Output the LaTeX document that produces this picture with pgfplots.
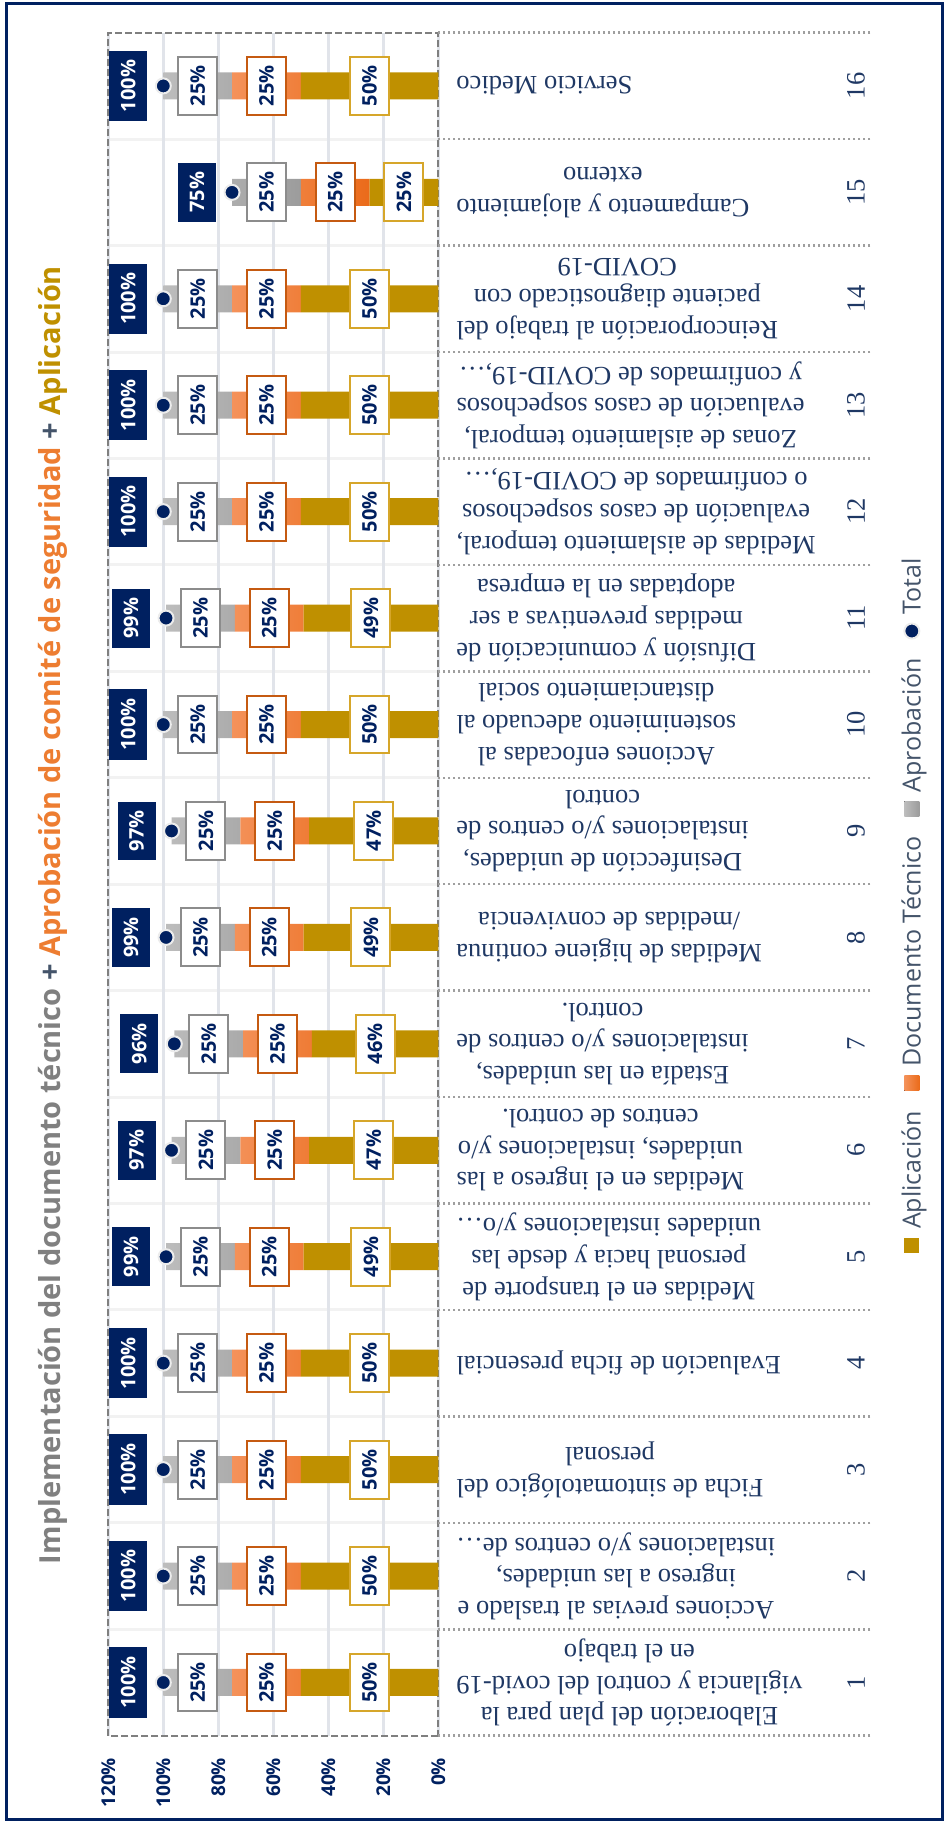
\documentclass[border=0pt]{standalone}
\usepackage{fontspec}
\setmainfont{Open Sans}
\newfontfamily\catfont{Liberation Serif}
\usepackage{pgfplots}
\pgfplotsset{compat=1.18}
\definecolor{navy}{HTML}{002060}
\definecolor{catblue}{HTML}{1F3864}
\definecolor{gold}{HTML}{BF9000}
\definecolor{goldB}{HTML}{D6A62A}
\definecolor{orL}{HTML}{F4925A}
\definecolor{orD}{HTML}{EB6B1A}
\definecolor{orB}{HTML}{C55A11}
\definecolor{grL}{HTML}{BDBDBD}
\definecolor{grD}{HTML}{9C9C9C}
\definecolor{grB}{HTML}{8C8C8C}
\definecolor{slate}{HTML}{44546A}
\definecolor{tgray}{HTML}{808080}
\definecolor{tor}{HTML}{ED7D31}
\definecolor{gridc}{HTML}{E1E4EA}
\definecolor{dashc}{HTML}{7F7F7F}
\pgfplotsset{
  sqlegend/.style={legend image code/.code={\fill[##1] (0pt,-7.5pt) rectangle (15pt,7.5pt);}},
}
\tikzset{
  seglab/.style={fill=white, line width=2pt, text=navy, font=\bfseries\fontsize{20}{24}\selectfont, inner xsep=8.5pt, inner ysep=0pt, minimum height=39pt, anchor=center},
}
\begin{document}
\begin{tikzpicture}[rotate=90, transform shape]
\path[use as bounding box] (0pt,0pt) rectangle (1823pt,945pt);
\draw[navy, line width=3pt] (3pt,2pt) rectangle (1819pt,938pt);
\node[anchor=center, font=\bfseries\fontsize{29}{35}\selectfont] at (908pt,892pt)
 {\textcolor{tgray}{Implementación del documento técnico} \textcolor{slate}{+} \textcolor{tor}{Aprobación de comité de seguridad} \textcolor{slate}{+} \textcolor{gold}{Aplicación}};
\begin{axis}[
  at={(87.3pt,506.7pt)}, anchor=south west,
  scale only axis, width=1703pt, height=330pt,
  ybar stacked, bar width=27pt,
  xmin=0.5, xmax=16.5, ymin=0, ymax=120,
  xtick={1,2,3,4,5,6,7,8,9,10,11,12,13,14,15,16},
  xticklabels={
    {Elaboración del plan para la\\vigilancia y control del covid-19\\en el trabajo},
    {Acciones previas al traslado e\\ingreso a las unidades,\\instalaciones y/o centros de…},
    {Ficha de sintomatológico del\\personal},
    {Evaluación de ficha presencial},
    {Medidas en el transporte de\\personal hacia y desde las\\unidades instalaciones y/o…},
    {Medidas en el ingreso a las\\unidades, instalaciones y/o\\centros de control.},
    {Estadía en las unidades,\\instalaciones y/o centros de\\control.},
    {Medidas de higiene continua\\/medidas de convivencia},
    {Desinfección de unidades,\\instalaciones y/o centros de\\control},
    {Acciones enfocadas al\\sostenimiento adecuado al\\distanciamiento social},
    {Difusión y comunicación de\\medidas preventivas a ser\\adoptadas en la empresa},
    {Medidas de aislamiento temporal,\\evaluación de casos sospechosos\\o confirmados de COVID-19,…},
    {Zonas de aislamiento temporal,\\evaluación de casos sospechosos\\y confirmados de COVID-19,…},
    {Reincorporación al trabajo del\\paciente diagnosticado con\\COVID-19},
    {Campamento y alojamiento\\externo},
    {Servicio Medico}},
  xticklabel style={rotate=90, anchor=east, align=center, inner sep=0pt, text=catblue,
     font=\catfont\fontsize{26.5}{31.7}\selectfont},
  xticklabel shift=18pt,
  ytick={0,20,40,60,80,100,120},
  yticklabels={0\%,20\%,40\%,60\%,80\%,100\%,120\%},
  yticklabel style={anchor=east, inner sep=0pt, text=navy, font=\bfseries\fontsize{19}{23}\selectfont},
  yticklabel shift=22pt,
  minor xtick={1.5,2.5,3.5,4.5,5.5,6.5,7.5,8.5,9.5,10.5,11.5,12.5,13.5,14.5,15.5},
  ymajorgrids, xminorgrids,
  major grid style={draw=gridc, line width=2.5pt},
  minor grid style={draw=black!5, line width=3pt},
  major tick length=0pt, minor tick length=0pt,
  axis line style={draw=dashc, line width=2.2pt, dash pattern=on 7pt off 3pt},
  xtick pos=left, ytick pos=left,
  extra x ticks={0.5,1.5,2.5,3.5,4.5,5.5,6.5,7.5,8.5,9.5,10.5,11.5,12.5,13.5,14.5,15.5,16.5},
  extra x tick labels={},
  extra x tick style={xtick pos=left, xtick align=outside, major tick length=432pt,
     major tick style={draw=gray!75, line width=2.5pt, dash pattern=on 2.5pt off 2.5pt}},
  clip=false,
]
\addplot[fill=gold, draw=none] coordinates {(1,50) (2,50) (3,50) (4,50) (5,49) (6,47) (7,46) (8,49) (9,47) (10,50) (11,49) (12,50) (13,50) (14,50) (15,25) (16,50)};
\addplot[top color=orL, bottom color=orD, draw=none] coordinates {(1,25) (2,25) (3,25) (4,25) (5,25) (6,25) (7,25) (8,25) (9,25) (10,25) (11,25) (12,25) (13,25) (14,25) (15,25) (16,25)};
\addplot[top color=grL, bottom color=grD, draw=none] coordinates {(1,25) (2,25) (3,25) (4,25) (5,25) (6,25) (7,25) (8,25) (9,25) (10,25) (11,25) (12,25) (13,25) (14,25) (15,25) (16,25)};
\pgfplotsinvokeforeach{1,2,3,4,5,6,7,8,9,10,11,12,13,14,15,16}{
  \node[text=catblue, font=\catfont\fontsize{26.5}{31.7}\selectfont, anchor=center, yshift=-417.7pt] at (axis cs:#1,0) {#1};
}
\end{axis}
\begin{axis}[
  at={(87.3pt,506.7pt)}, anchor=south west,
  scale only axis, width=1703pt, height=330pt,
  xmin=0.5, xmax=16.5, ymin=0, ymax=120,
  hide axis, clip=false,
  legend columns=4,
  legend style={at={(0.488,-1.435)}, anchor=center, draw=none, fill=none,
    font=\fontsize{25}{30}\selectfont, text=slate,
    /tikz/every odd column/.append style={column sep=7pt},
    /tikz/every even column/.append style={column sep=18pt}},
  legend cell align=left,
]
\addlegendimage{sqlegend, fill=gold, draw=none}
\addlegendentry{Aplicación}
\addlegendimage{sqlegend, top color=orL, bottom color=orD, draw=none}
\addlegendentry{Documento Técnico}
\addlegendimage{sqlegend, top color=grL, bottom color=grD, draw=none}
\addlegendentry{Aprobación}
\addplot[only marks, mark=*, mark size=7.5pt, mark options={fill=navy, draw=gray!15, line width=2pt},
  nodes near coords, point meta=explicit symbolic,
  every node near coord/.append style={fill=navy, text=white, font=\bfseries\fontsize{20}{24}\selectfont, inner xsep=9pt, inner ysep=0pt, minimum height=38pt, anchor=center, yshift=35pt}]
  coordinates {(1,100) [100\%] (2,100) [100\%] (3,100) [100\%] (4,100) [100\%] (5,99) [99\%] (6,97) [97\%] (7,96) [96\%] (8,99) [99\%] (9,97) [97\%] (10,100) [100\%] (11,99) [99\%] (12,100) [100\%] (13,100) [100\%] (14,100) [100\%] (15,75) [75\%] (16,100) [100\%]};
\addlegendentry{Total}
\addplot[forget plot, draw=none, mark=none, nodes near coords, point meta=explicit symbolic,
  every node near coord/.append style={seglab, draw=goldB}]
  coordinates {(1,25) [50\%] (2,25) [50\%] (3,25) [50\%] (4,25) [50\%] (5,24.5) [49\%] (6,23.5) [47\%] (7,23) [46\%] (8,24.5) [49\%] (9,23.5) [47\%] (10,25) [50\%] (11,24.5) [49\%] (12,25) [50\%] (13,25) [50\%] (14,25) [50\%] (15,12.5) [25\%] (16,25) [50\%]};
\addplot[forget plot, draw=none, mark=none, nodes near coords, point meta=explicit symbolic,
  every node near coord/.append style={seglab, draw=orB}]
  coordinates {(1,62.5) [25\%] (2,62.5) [25\%] (3,62.5) [25\%] (4,62.5) [25\%] (5,61.5) [25\%] (6,59.5) [25\%] (7,58.5) [25\%] (8,61.5) [25\%] (9,59.5) [25\%] (10,62.5) [25\%] (11,61.5) [25\%] (12,62.5) [25\%] (13,62.5) [25\%] (14,62.5) [25\%] (15,37.5) [25\%] (16,62.5) [25\%]};
\addplot[forget plot, draw=none, mark=none, nodes near coords, point meta=explicit symbolic,
  every node near coord/.append style={seglab, draw=grB}]
  coordinates {(1,87.5) [25\%] (2,87.5) [25\%] (3,87.5) [25\%] (4,87.5) [25\%] (5,86.5) [25\%] (6,84.5) [25\%] (7,83.5) [25\%] (8,86.5) [25\%] (9,84.5) [25\%] (10,87.5) [25\%] (11,86.5) [25\%] (12,87.5) [25\%] (13,87.5) [25\%] (14,87.5) [25\%] (15,62.5) [25\%] (16,87.5) [25\%]};
\end{axis}
\end{tikzpicture}
\end{document}
